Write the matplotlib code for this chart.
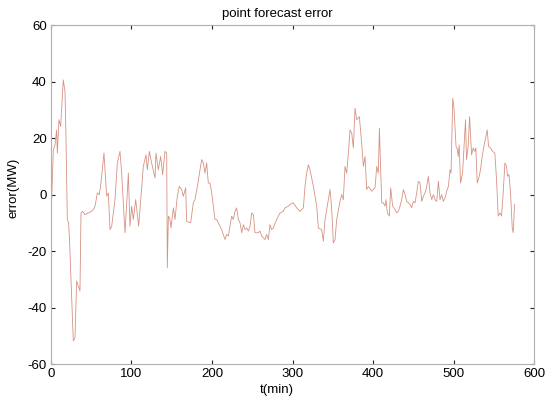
import matplotlib
matplotlib.use('Agg')
import matplotlib.pyplot as plt

plt.rcParams['font.family'] = ['Liberation Sans', 'DejaVu Sans']
plt.rcParams['axes.unicode_minus'] = False

# values
t = [0, 0.8, 2.9, 5.0, 7.0, 7.9, 9.9, 12.0, 15.3, 17.4, 18.6, 20.3, 21.9, 23.2,
     27.7, 29.8, 31.9, 34.0, 36.0, 37.3, 39.3, 42.2, 46.4, 50.5, 52.6, 54.7,
     57.6, 60.0, 62.1, 65.8, 69.2, 71.2, 73.3, 75.4, 79.5, 82.4, 85.7, 87.8,
     91.9, 94.8, 96.1, 98.1, 100.2, 102.3, 105.2, 108.9, 114.7, 118.0, 119.7,
     122.2, 125.0, 129.2, 130.4, 133.3, 136.2, 138.7, 141.6, 143.7, 144.5,
     145.8, 147.8, 149.1, 152.0, 154.0, 156.9, 159.4, 162.3, 164.4, 167.3,
     168.5, 173.5, 176.8, 178.9, 181.8, 185.1, 187.2,
     189.2, 191.3, 193.4, 195.4, 197.5, 199.6, 201.7, 203.7, 205.8, 207.9,
     210.0, 212.0, 216.1, 218.2, 220.3, 224.4, 226.5, 228.6, 230.6, 232.7,
     234.8, 236.9, 238.9, 241.0, 243.1, 245.1, 247.2, 249.3, 251.4, 253.4,
     257.6, 259.6, 261.7, 263.8, 265.8, 267.9, 270.0, 272.0, 274.1, 276.2,
     280.3, 284.5, 288.6, 290.7, 294.8, 296.9, 301.0, 305.2, 309.3, 313.5,
     315.5, 317.6, 319.7, 321.7, 325.9, 330.0, 332.1, 336.2, 338.3, 340.4,
     344.5, 346.6, 348.7, 350.7, 352.8, 354.9, 359.0, 361.1, 363.1, 365.2,
     367.3, 369.4, 371.4, 373.5, 375.6, 377.6, 379.7, 383.0, 385.9, 388.0,
     390.1, 392.1, 394.2, 398.3, 402.5,
     404.6, 406.6, 407.9, 409.5, 410.8, 412.8, 414.9, 416.1, 417.8, 420.3,
     421.9, 424.4, 427.3, 429.4, 431.5, 433.5, 435.6, 437.7, 439.8, 441.8,
     443.9, 446.0, 448.0, 450.1, 452.2, 454.2, 456.3, 458.4, 460.5, 462.5,
     464.6, 466.7, 468.7, 470.8, 472.9, 475.0, 477.0, 479.1, 481.2, 483.2,
     485.3, 487.4, 489.4, 491.5, 493.6, 495.7, 496.9, 499.0, 500.6, 503.1,
     504.8, 505.8, 507.0, 508.7, 511.2, 512.8, 514.9, 516.1, 518.2, 519.9,
     522.4, 524.4, 526.5, 527.7, 529.4, 531.9, 533.5, 535.6, 537.7, 539.8,
     541.8, 543.5, 546.0, 548.4, 551.3, 553.4, 555.5, 557.6, 559.6, 561.7,
     563.8, 565.8, 567.1, 568.8, 570.8, 572.9, 574.1, 575.8]

err = [11.2, -2.4, 15.9, 17.6, 22.9, 14.7, 26.5, 24.1, 40.6, 36.5, 20.6, -8.8,
       -10.0, -17.3, -51.8, -50.6, -30.6, -32.4, -34.1, -6.5, -5.9, -7.1, -6.5,
       -5.9, -5.3, -4.1, 0.6, 0.0, 4.1, 14.7, -0.6, 0.6, -12.4, -11.2, -1.8,
       11.2, 15.3, 7.6, -13.5, 0.6, 7.6, -11.2, -4.1, -8.8, -1.8, -11.2, 10.0,
       14.1, 8.8, 15.3, 11.2, 5.9, 14.7, 8.8, 13.5, 7.1, 15.3, 14.7, -25.9,
       -7.6, -8.8, -11.8, -4.7, -8.8, -0.6, 2.9, 1.8, -0.6, 2.4, -9.4, -10.0,
       -2.9, -1.8, 2.9, 8.8, 12.4,
       11.2, 7.6, 11.2, 4.1, 4.1, 0.6, -4.1, -8.8, -8.8, -10.0, -11.2, -12.4,
       -15.9, -14.1, -14.7, -7.6, -8.8, -5.9, -4.7, -8.8, -10.0, -13.5, -10.6,
       -12.4, -11.8, -12.9, -11.2, -6.5, -7.1, -13.5, -13.5, -12.9, -14.7,
       -15.3, -15.9, -14.1, -15.9, -10.6, -12.4, -11.8, -8.8, -6.5, -5.9, -4.7,
       -4.1, -3.5, -2.9, -4.7, -5.9, -4.7, 2.9, 7.6, 10.6, 8.8, 2.9, -4.1,
       -11.8, -12.4, -16.5, -8.8, -1.8, 1.8, -5.3, -17.1, -15.9, -8.8, -2.4,
       0.0, -1.8, 10.0, 7.6, 14.7, 22.9, 21.8, 16.5, 30.6, 26.5, 27.6, 18.2,
       10.0, 13.5, 1.8, 2.9, 1.2, 2.4,
       10.0, 7.6, 23.5, 8.8, -2.9, -2.9, -4.1, -1.8, -6.5, -7.6, 2.4, -4.1,
       -5.3, -6.5, -5.9, -4.1, -1.8, 1.8, 0.0, -2.4, -2.9, -3.5, -4.7, -2.4,
       -2.9, 0.6, 4.7, 4.1, -2.4, -0.6, 0.6, 2.9, 6.5, 0.6, -1.8, 0.0, -1.8,
       -2.4, 4.7, -1.8, 0.0, -2.4, -1.2, 1.2, 2.9, 8.8, 7.6, 34.1, 30.6, 17.1,
       15.9, 13.5, 17.6, 4.1, 7.6, 15.9, 26.5, 12.4, 17.1, 27.6, 14.1, 16.5,
       15.3, 16.5, 4.1, 6.5, 8.8, 13.5, 17.1, 20.0, 22.9, 17.1, 16.5, 15.3,
       14.7, 5.3, -7.6, -6.5, -7.6, 0.6, 11.2, 10.0, 6.5, 7.1, 0.6, -11.8,
       -13.5, -3.5]

xticks = [0, 100, 200, 300, 400, 500, 600]
yticks = [-60, -40, -20, 0, 20, 40, 60]

fig = plt.figure(figsize=(5.5, 4.05), dpi=100)
ax = fig.add_axes([0.0927, 0.101, 0.8783, 0.837])

ax.plot(t, err, color='#d69282', linewidth=0.6)

ax.set_xlim(0, 600)
ax.set_ylim(-60, 60)
ax.set_xticks(xticks)
ax.set_yticks(yticks)
ax.tick_params(direction='in', length=3, width=0.8, color='#222222',
               top=True, right=True, labelsize=9.5, pad=3)
for s in ax.spines.values():
    s.set_color('#b0b0b0')
    s.set_linewidth(0.8)

ax.set_title('point forecast error', fontsize=9.5, pad=6, x=0.468)
ax.set_xlabel('t(min)', fontsize=9.5, labelpad=1)
ax.xaxis.set_label_coords(0.468, -0.06)
ax.set_ylabel('error(MW)', fontsize=9.5, labelpad=1)
ax.yaxis.set_label_coords(-0.066, 0.52)

fig.savefig('out.png', dpi=100)
